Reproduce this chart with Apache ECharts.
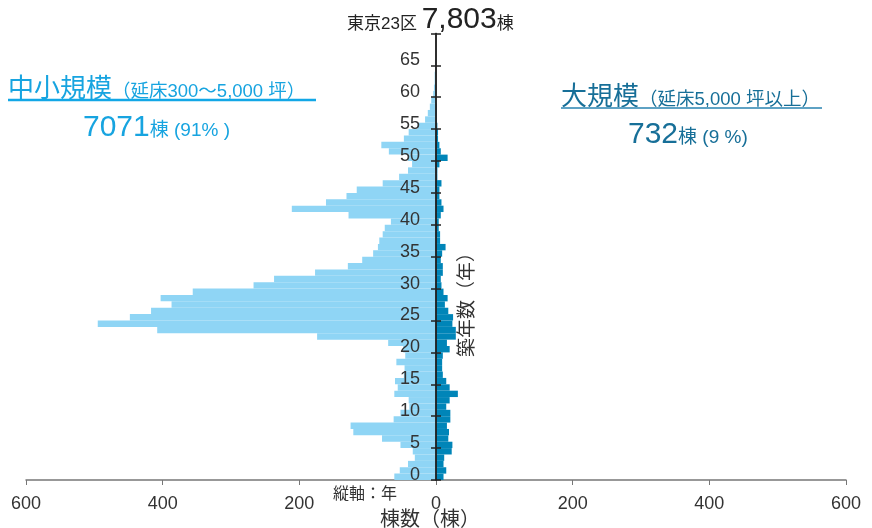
<!DOCTYPE html>
<html>
<head>
<meta charset="utf-8">
<script src="https://cdn.jsdelivr.net/npm/echarts@6/dist/echarts.min.js"></script>
<style>
html,body{margin:0;padding:0;background:#fff;}
#chart{width:872px;height:528px;}
</style>
</head>
<body>
<div id="chart"></div>
<script>
// Building age (years) 0..65
const years = [];
for (let i = 0; i <= 65; i++) years.push(i);
// 中小規模 (small/medium) counts per building age
const smallMid = [61,53,41,31,34,52,79,121,125,62,
  52,39,40,61,56,60,47,46,58,45,
  48,70,174,408,495,448,417,387,403,356,
  267,237,177,129,108,92,85,83,78,75,
  66,128,211,161,131,116,78,54,41,35,
  41,69,80,47,40,27,16,12,9,7,
  4,3,2,2,1,1];
// 大規模 (large) counts per building age
const large = [11,15,11,12,23,24,18,19,16,21,
  21,15,20,32,20,15,10,9,9,10,
  20,16,29,29,24,25,18,13,17,11,
  8,7,10,10,7,9,14,6,6,4,
  4,7,11,8,5,5,8,2,2,5,
  17,7,5,3,3,2,1,1,1,0,
  0,0,0,0,0,0];

const LIGHT = '#8fd5f5';
const DARK = '#0085b8';
const CYAN = '#17a4e0';
const TEAL = '#176f98';
const FONT = '"Liberation Sans","Noto Sans CJK JP",sans-serif';
const GRID_W = 872 - 26 - 26;

function makeRender(color){
  return function(params, api){
    const y = api.value(0), v = api.value(1);
    const p0 = api.coord([0, y]);
    const p1 = api.coord([v, y + 1]);
    return {
      type: 'rect',
      shape: {x: Math.min(p0[0], p1[0]), y: p1[1], width: Math.abs(p1[0] - p0[0]), height: p0[1] - p1[1]},
      style: {fill: color}
    };
  };
}

const chart = echarts.init(document.getElementById('chart'));
chart.setOption({
  animation: false,
  textStyle: {fontFamily: FONT},
  title: {
    left: 342, top: 0,
    text: '{a|東京23区 }{b|7,803}{c|棟}',
    textStyle: {
      fontWeight: 'normal',
      rich: {
        a: {fontSize: 17, color: '#222', fontFamily: FONT, fontWeight: 'normal', verticalAlign: 'bottom', padding: [0,0,2,0]},
        b: {fontSize: 30, color: '#222', fontFamily: FONT, fontWeight: 'normal', verticalAlign: 'bottom'},
        c: {fontSize: 17, color: '#222', fontFamily: FONT, fontWeight: 'normal', verticalAlign: 'bottom', padding: [0,0,2,0]}
      }
    }
  },
  grid: {left: 26, right: 26, top: 33.4, bottom: 48, containLabel: false, outerBoundsMode: 'none'},
  xAxis: {
    type: 'value', min: -600, max: 600, interval: 200,
    axisLine: {show: true, onZero: false, lineStyle: {color: '#777', width: 1.5}},
    axisTick: {show: true, length: 5, lineStyle: {color: '#777'}},
    splitLine: {show: false},
    axisLabel: {fontSize: 18, color: '#333', margin: 15, formatter: v => String(Math.abs(v))},
    name: '棟数（棟）', nameLocation: 'middle', nameGap: 30, nameMoveOverlap: false,
    nameTextStyle: {fontSize: 20, color: '#333', padding: [0, 12, 0, 0]}
  },
  yAxis: [{
    type: 'value', min: 0, max: 70, interval: 5, z: 10, position: 'left', offset: -GRID_W / 2,
    axisLine: {show: true, onZero: false, lineStyle: {color: '#222', width: 1.5}},
    axisTick: {show: true, length: 5, lineStyle: {color: '#222', width: 1.5}},
    splitLine: {show: false},
    axisLabel: {fontSize: 18, color: '#333', margin: 16, verticalAlign: 'bottom', lineHeight: 10,
      formatter: v => v === 70 ? '' : String(v)}
  }, {
    type: 'value', min: 0, max: 70, interval: 5, position: 'right', z: 10, offset: -GRID_W / 2,
    axisLine: {show: true, onZero: false, lineStyle: {color: '#222', width: 1.5}},
    axisTick: {show: true, length: 5, lineStyle: {color: '#222', width: 1.5}},
    splitLine: {show: false},
    axisLabel: {show: false}
  }],
  series: [{
    type: 'custom', name: '中小規模', renderItem: makeRender(LIGHT),
    encode: {x: 1, y: 0},
    data: years.map((y, i) => [y, -smallMid[i]])
  }, {
    type: 'custom', name: '大規模', renderItem: makeRender(DARK),
    encode: {x: 1, y: 0},
    data: years.map((y, i) => [y, large[i]])
  }],
  graphic: [
    {type: 'text', left: 8, top: 77, style: {
      text: '{a|中小規模}{b|（延床300〜5,000 坪）}',
      rich: {
        a: {fontSize: 26, fill: CYAN, fontFamily: FONT, verticalAlign: 'bottom'},
        b: {fontSize: 18.5, fill: CYAN, fontFamily: FONT, verticalAlign: 'bottom', padding: [0,0,2,0]}
      }}},
    {type: 'line', shape: {x1: 8, y1: 100, x2: 316, y2: 100}, style: {stroke: '#12a7e6', lineWidth: 2.5}},
    {type: 'text', left: 83, top: 113, style: {
      text: '{a|7071}{b|棟 (91% )}',
      rich: {
        a: {fontSize: 30, fill: CYAN, fontFamily: FONT, verticalAlign: 'bottom'},
        b: {fontSize: 19, fill: CYAN, fontFamily: FONT, verticalAlign: 'bottom', padding: [0,0,3,0]}
      }}},
    {type: 'text', left: 561, top: 85, style: {
      text: '{a|大規模}{b|（延床5,000 坪以上）}',
      rich: {
        a: {fontSize: 26, fill: TEAL, fontFamily: FONT, verticalAlign: 'bottom'},
        b: {fontSize: 18.5, fill: TEAL, fontFamily: FONT, verticalAlign: 'bottom', padding: [0,0,2,0]}
      }}},
    {type: 'line', shape: {x1: 561, y1: 108, x2: 822, y2: 108}, style: {stroke: '#5ea2c4', lineWidth: 2}},
    {type: 'text', left: 628, top: 120, style: {
      text: '{a|732}{b|棟 (9 %)}',
      rich: {
        a: {fontSize: 30, fill: TEAL, fontFamily: FONT, verticalAlign: 'bottom'},
        b: {fontSize: 19, fill: TEAL, fontFamily: FONT, verticalAlign: 'bottom', padding: [0,0,3,0]}
      }}},
    {type: 'text', x: 468, y: 300, rotation: Math.PI / 2, style: {
      text: '築年数（年）', fontSize: 19, fill: '#333', fontFamily: FONT,
      align: 'center', verticalAlign: 'middle'}},
    {type: 'text', x: 333, y: 495, style: {
      text: '縦軸：年', fontSize: 16, fill: '#333', fontFamily: FONT,
      align: 'left', verticalAlign: 'middle'}}
  ]
});
</script>
</body>
</html>
